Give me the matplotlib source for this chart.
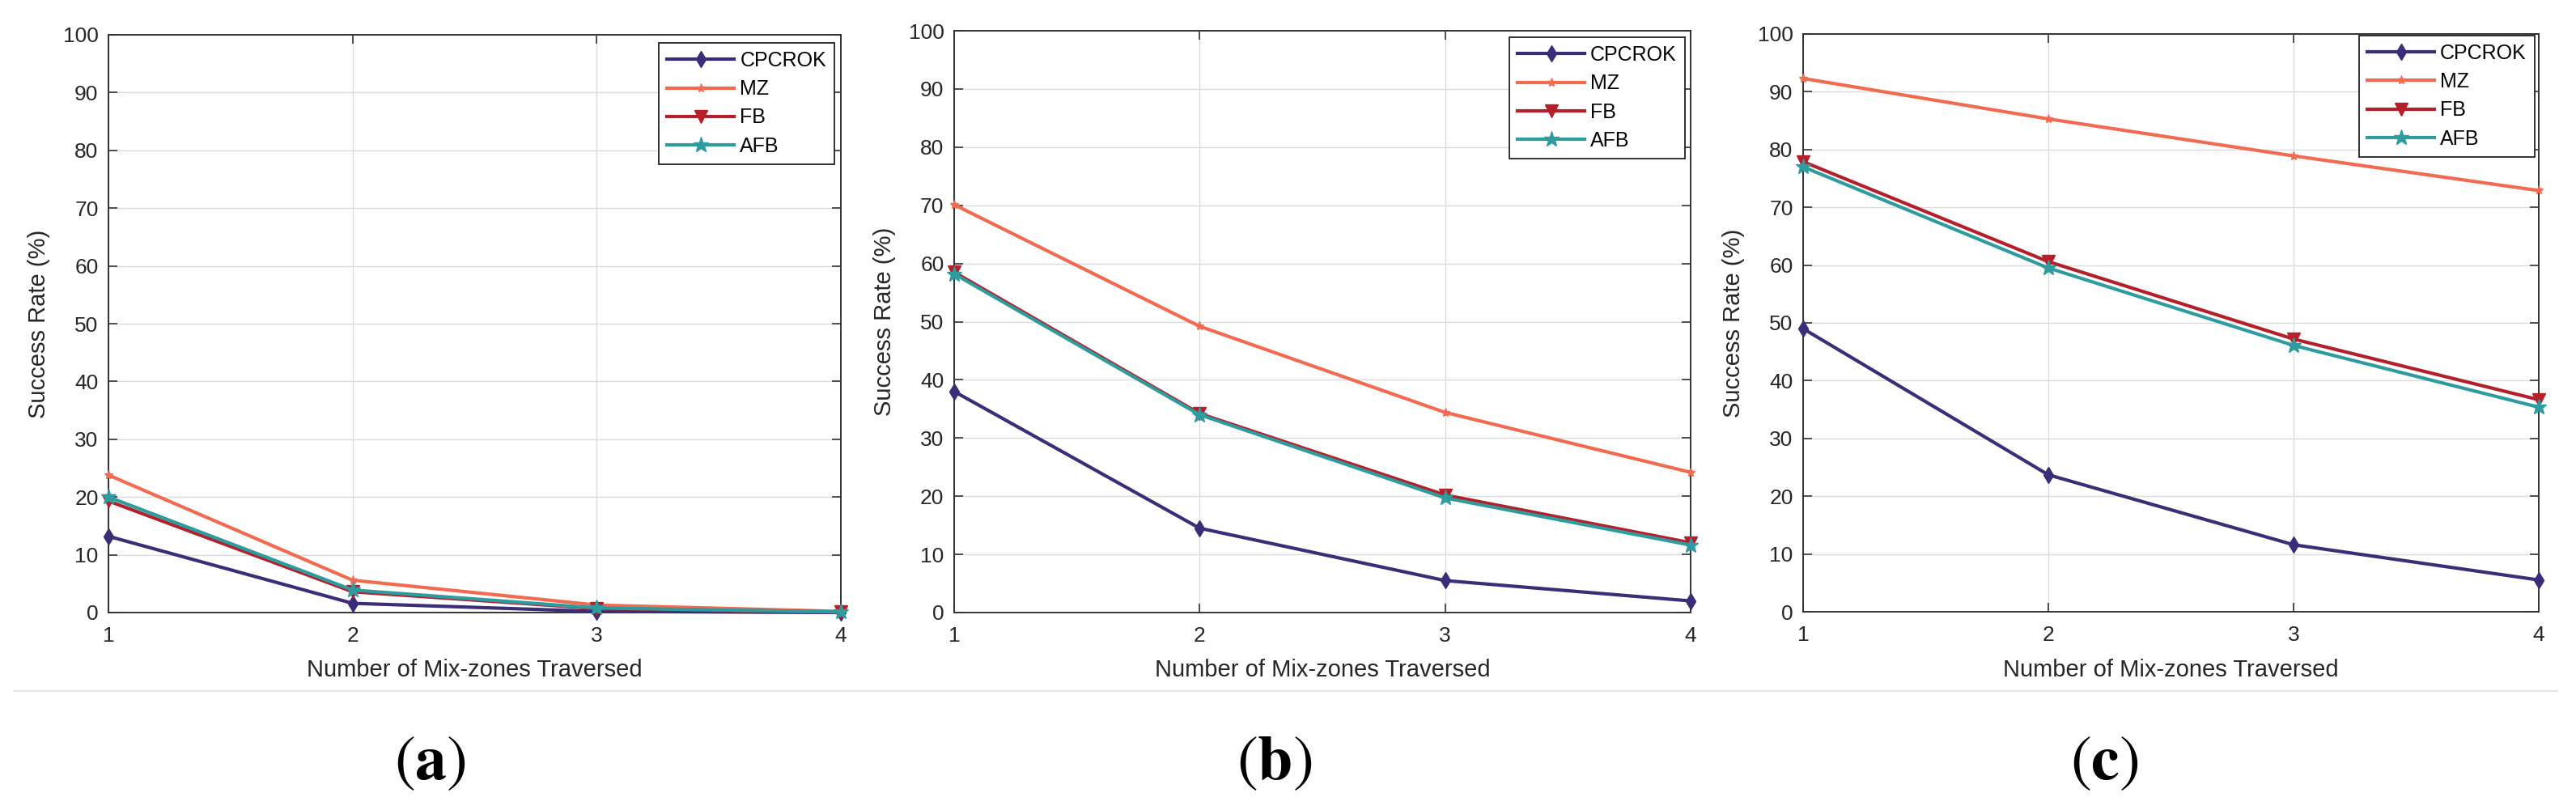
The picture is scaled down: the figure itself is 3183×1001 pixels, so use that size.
import matplotlib.pyplot as plt
import numpy as np

plt.rcParams['font.family'] = ['Liberation Sans', 'DejaVu Sans']
plt.rcParams['mathtext.fontset'] = 'stix'

# data
mixzones = [1, 2, 3, 4]
methods = ["CPCROK", "MZ", "FB", "AFB"]
panel_tags = ["a", "b", "c"]

cpcrok_a = [13.2, 1.6, 0.2, 0.0]
mz_a = [23.8, 5.6, 1.3, 0.2]
fb_a = [19.3, 3.6, 0.7, 0.1]
afb_a = [20.0, 3.9, 0.8, 0.1]

cpcrok_b = [38.0, 14.5, 5.5, 2.0]
mz_b = [70.1, 49.2, 34.4, 24.1]
fb_b = [58.5, 34.2, 20.2, 12.0]
afb_b = [58.2, 34.0, 19.7, 11.6]

cpcrok_c = [49.0, 23.7, 11.6, 5.5]
mz_c = [92.3, 85.3, 78.9, 72.9]
fb_c = [77.9, 60.6, 47.2, 36.7]
afb_c = [77.0, 59.5, 46.1, 35.4]

panels = [
    [cpcrok_a, mz_a, fb_a, afb_a],
    [cpcrok_b, mz_b, fb_b, afb_b],
    [cpcrok_c, mz_c, fb_c, afb_c],
]

colors = ["#3b2d78", "#f26a4f", "#b51f2a", "#2e9c9f"]
markers = ["d", "*", "v", "*"]
msizes = [10, 8, 12, 14]

W, H = 3183, 1001
# axes boxes in pixels: left, right, top, bottom
boxes = [(134, 1039, 43, 757), (1179, 2089, 38, 757), (2228, 3137, 42, 756)]
legend_anchor = [(1031, 53), (2082, 46), (3132, 44)]
tag_x = [531, 1575, 2600]

fig = plt.figure(figsize=(W / 100, H / 100), dpi=100)
txt = "#262626"

for i, series in enumerate(panels):
    l, r, t, b = boxes[i]
    ax = fig.add_axes([l / W, 1 - b / H, (r - l) / W, (b - t) / H])
    for j, vals in enumerate(series):
        ax.plot(mixzones, vals, color=colors[j], marker=markers[j], markersize=msizes[j],
                linewidth=3.0, label=methods[j], clip_on=False, zorder=3 + j)
    ax.set_xlim(1, 4)
    ax.set_ylim(0, 100)
    ax.set_xticks(mixzones)
    ax.set_yticks(np.arange(0, 101, 10))
    ax.grid(True, color="#dcdcdc", linewidth=1.0)
    ax.set_axisbelow(True)
    for s in ax.spines.values():
        s.set_color("#333333")
        s.set_linewidth(1.4)
    ax.tick_params(direction="in", length=8, width=1.2, top=True, right=True,
                   labelsize=19, colors="#333333", labelcolor=txt)
    ax.tick_params(axis="x", pad=12)
    ax.tick_params(axis="y", pad=9)
    ax.set_xlabel("Number of Mix-zones Traversed", fontsize=21, color=txt)
    ax.set_ylabel("Success Rate (%)", fontsize=21, color=txt)
    ax.xaxis.label.set_va("center")
    ax.yaxis.label.set_va("center")
    ax.xaxis.set_label_coords(0.5, (b - 828) / (b - t))
    ax.yaxis.set_label_coords(-86 / (r - l), 0.5)

    lx, ly = legend_anchor[i]
    leg = ax.legend(loc="upper right", bbox_to_anchor=((lx - l) / (r - l), (b - ly) / (b - t)),
                    borderaxespad=0, fontsize=18, fancybox=False, framealpha=1,
                    edgecolor="#222222", handlelength=3.3, handletextpad=0.3,
                    labelspacing=0.45, borderpad=0.4)
    leg.get_frame().set_linewidth(1.3)

    fig.text(tag_x[i] / W, 1 - 943 / H, r"$(\mathbf{%s})$" % panel_tags[i],
             fontsize=56, ha="center", va="center", color="black")

fig.add_artist(plt.Line2D([17 / W, 3160 / W], [1 - 854 / H, 1 - 854 / H],
                          color="#e6e6e6", linewidth=1.5))

fig.savefig("out.png", dpi=100, facecolor="white")
